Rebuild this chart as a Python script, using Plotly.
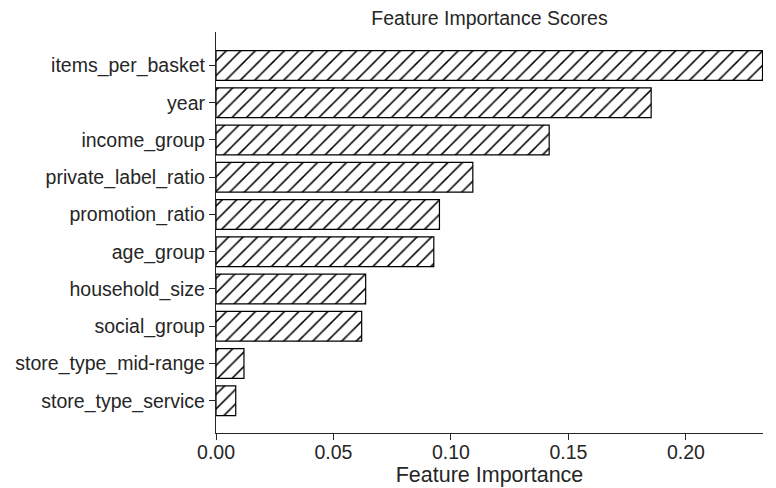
import plotly.graph_objects as go

features = ["items_per_basket", "year", "income_group", "private_label_ratio",
            "promotion_ratio", "age_group", "household_size", "social_group",
            "store_type_mid-range", "store_type_service"]
importance = [0.2326, 0.1852, 0.1418, 0.1093, 0.0951, 0.0927, 0.0637, 0.0620, 0.0119, 0.0084]
x_ticks = [0.0, 0.05, 0.10, 0.15, 0.20]
x_tick_text = ["0.00", "0.05", "0.10", "0.15", "0.20"]

FONT = "Liberation Sans, Arial, sans-serif"
DARK = "#262626"

fig = go.Figure(go.Bar(
    x=importance,
    y=features,
    orientation="h",
    width=0.8,
    marker=dict(
        color="white",
        line=dict(color="black", width=1.2),
        pattern=dict(shape="/", size=10.25, solidity=0.15, fgcolor="black",
                     bgcolor="white", fgopacity=1, fillmode="replace"),
    ),
    showlegend=False,
))

fig.update_layout(
    width=776, height=488,
    margin=dict(l=216, r=13, t=32, b=55),
    paper_bgcolor="white", plot_bgcolor="white",
    font=dict(family=FONT, color=DARK),
    title=dict(text="Feature Importance Scores", x=(216 + 763) / 2 / 776, xanchor="center",
               y=1 - 18 / 488, yanchor="middle", yref="container",
               font=dict(size=19.5, color=DARK, family=FONT)),
    xaxis=dict(
        range=[0, 0.2328], tickvals=x_ticks, ticktext=x_tick_text,
        showgrid=False, zeroline=False, showline=True, linecolor=DARK, linewidth=1.25,
        ticks="outside", ticklen=6, tickwidth=1.25, tickcolor=DARK,
        tickfont=dict(size=19.5, color=DARK), automargin=False, ticklabelstandoff=-5,
        title=dict(text="Feature Importance", font=dict(size=21.5, color=DARK), standoff=2),
    ),
    yaxis=dict(
        type="category", categoryorder="array", categoryarray=features,
        range=[9.866, -0.899], automargin=False,
        showgrid=False, zeroline=False, showline=True, linecolor=DARK, linewidth=1.25,
        ticks="outside", ticklen=6, tickwidth=1.25, tickcolor=DARK,
        tickfont=dict(size=19.5, color=DARK),
    ),
)

fig.write_html("out.html", config={"displayModeBar": False},
               post_script="document.body.style.margin='0px';")
